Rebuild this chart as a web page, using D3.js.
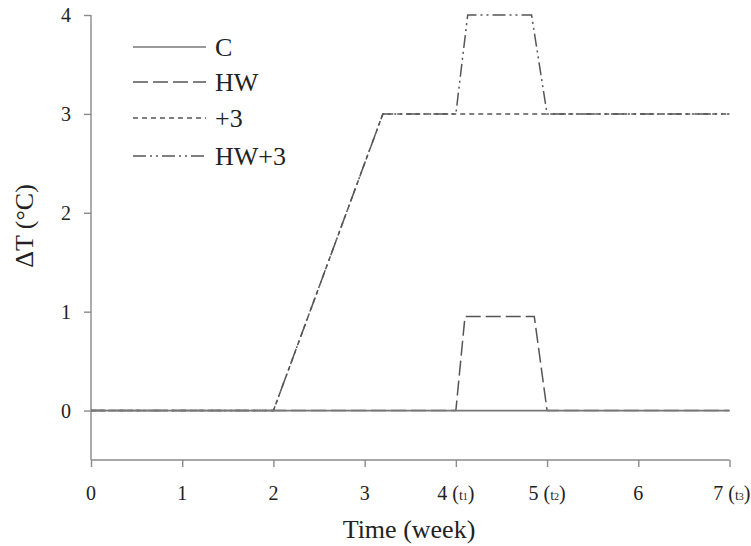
<!DOCTYPE html>
<html><head><meta charset="utf-8">
<script src="https://cdn.jsdelivr.net/npm/d3@7"></script>
<style>body{margin:0;background:#fff}svg{display:block}text{font-family:"Liberation Serif","Times New Roman",serif;fill:#222}</style>
</head><body><svg id="c" width="751" height="546"></svg>
<script>
const seriesNames = ["C", "HW", "+3", "HW+3"];
const cX = [0, 7], cY = [0, 0];
const hwX = [0, 4, 4.1, 4.86, 5, 7], hwY = [0, 0, 0.95, 0.95, 0, 0];
const p3X = [0, 2, 3.2, 7], p3Y = [0, 0, 3, 3];
const hw3X = [0, 2, 3.2, 4, 4.13, 4.83, 5, 7], hw3Y = [0, 0, 3, 3, 4, 4, 3, 3];
const xTicks = [0, 1, 2, 3, 4, 5, 6, 7];
const xTickSub = ["", "", "", "", "1", "2", "", "3"];
const yTicks = [0, 1, 2, 3, 4];

const svg = d3.select("#c");
const x = d3.scaleLinear().domain([0, 7]).range([91, 729.5]);
const y = d3.scaleLinear().domain([-0.5, 4]).range([460, 15]);
const axisCol = "#8a8a8a", lineCol = "#555";

// axes
const xa = svg.append("g").attr("transform", `translate(0,${y(-0.5)})`)
  .call(d3.axisBottom(x).tickValues(xTicks).tickSize(7).tickFormat(""));
const ya = svg.append("g").attr("transform", `translate(${x(0)},0)`)
  .call(d3.axisLeft(y).tickValues(yTicks).tickSize(7).tickFormat(""));
[xa, ya].forEach(a => { a.selectAll("path,line").attr("stroke", axisCol).attr("stroke-width", 1.4); });
xa.select(".domain").attr("d", `M${x(0)},0H${x(7)}`);
ya.select(".domain").attr("d", `M0,${y(4)}V${y(-0.5)}`);

// x tick labels
xTicks.forEach((t, i) => {
  const tx = svg.append("text").attr("x", x(t)).attr("y", 500).attr("font-size", 20)
    .attr("text-anchor", "middle");
  if (xTickSub[i]) {
    tx.append("tspan").text(t + " (");
    tx.append("tspan").attr("font-size", 14).text("t");
    tx.append("tspan").attr("font-size", 10).text(xTickSub[i]);
    tx.append("tspan").text(")");
    if (i === xTicks.length - 1) tx.attr("text-anchor", "end").attr("x", 750.5);
  } else tx.text(t);
});
// y tick labels
yTicks.forEach(t => {
  svg.append("text").attr("x", 71).attr("y", y(t) + 7).attr("font-size", 20)
    .attr("text-anchor", "end").text(t);
});
svg.append("text").attr("x", 409).attr("y", 538).attr("font-size", 26)
  .attr("text-anchor", "middle").text("Time (week)");
svg.append("text").attr("transform", "translate(33,226) rotate(-90)").attr("font-size", 26)
  .attr("text-anchor", "middle").text("ΔT (°C)");

const dashes = [null, "15,5", "5,4", "13,4,2,4,2,4"];
const data = [[cX, cY], [hwX, hwY], [p3X, p3Y], [hw3X, hw3Y]];
const line = d3.line().x(d => x(d[0])).y(d => y(d[1]));
[3, 2, 1, 0].forEach(i => {
  const pts = data[i][0].map((v, j) => [v, data[i][1][j]]);
  svg.append("path").attr("d", line(pts)).attr("fill", "none")
    .attr("stroke", i === 0 ? "#777" : lineCol).attr("stroke-width", i === 0 ? 1.8 : 1.5)
    .attr("stroke-dasharray", dashes[i]);
});

// legend
const legY = [47, 82, 118, 156];
seriesNames.forEach((n, i) => {
  svg.append("line").attr("x1", 133).attr("x2", 206).attr("y1", legY[i]).attr("y2", legY[i])
    .attr("stroke", i === 0 ? "#777" : lineCol).attr("stroke-width", 1.5)
    .attr("stroke-dasharray", dashes[i]);
  svg.append("text").attr("x", 215).attr("y", legY[i] + 9).attr("font-size", 26).text(n);
});
</script></body></html>
